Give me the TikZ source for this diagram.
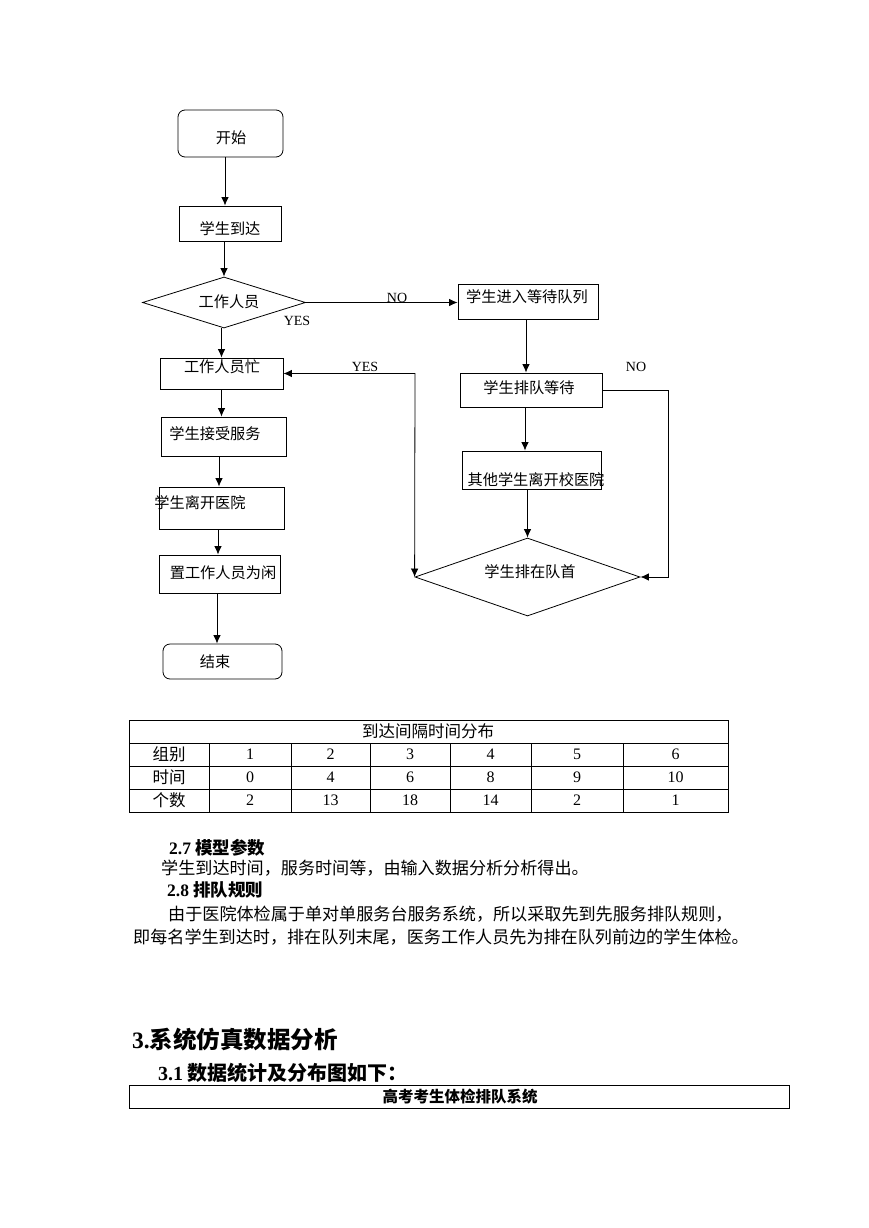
\documentclass[tikz,border=0pt]{standalone}
\usepackage{fontspec}
\setmainfont{Liberation Serif}
\newfontfamily\cjk{Noto Sans CJK SC}
\usetikzlibrary{arrows.meta,shapes.geometric}
\tikzset{
  box/.style={draw, line width=0.8pt, inner sep=0pt},
  rbox/.style={box, rounded corners=7pt},
  dia/.style={draw, diamond, line width=0.8pt, inner sep=0pt},
  ft/.style={font=\cjk\fontsize{15.2}{17}\selectfont, inner sep=0pt},
  lat/.style={font=\fontsize{14}{16}\selectfont, inner sep=0pt},
  tcj/.style={font=\cjk\fontsize{16.5}{18}\selectfont, inner sep=0pt},
  tnum/.style={font=\fontsize{16}{18}\selectfont, inner sep=0pt},
  body/.style={font=\cjk\fontsize{17.1}{19}\selectfont, inner sep=0pt, anchor=west},
  arr/.style={line width=0.8pt, -{Latex[length=8.5pt,width=7.5pt]}},
  ln/.style={line width=0.8pt},
}
\begin{document}
\begin{tikzpicture}[x=1pt,y=-1pt]
\useasboundingbox (0,0) rectangle (869,1228);
\fill[white] (0,0) rectangle (869,1228);

% ---------- flowchart boxes ----------
\node[rbox, minimum width=105pt, minimum height=47pt] (start) at (230.5,133.5) {};
\node[ft] (tstart) at (231,138) {开始};
\node[box, minimum width=102pt, minimum height=35pt] (arrive) at (230,223.5) {};
\node[ft] (tarrive) at (230,229) {学生到达};
\node[dia, minimum width=163pt, minimum height=51pt] (d1) at (224,302.5) {};
\node[ft] (td1) at (229,302) {工作人员};
\node[box, minimum width=123pt, minimum height=31pt] (busy) at (221.5,373.5) {};
\node[ft] (tbusy) at (222,367) {工作人员忙};
\node[box, minimum width=125pt, minimum height=39pt] (serve) at (223.5,436.5) {};
\node[ft] (tserve) at (215,434) {学生接受服务};
\node[box, minimum width=125pt, minimum height=42pt] (leave) at (221.5,508) {};
\node[ft] (tleave) at (200,503) {学生离开医院};
\node[box, minimum width=121pt, minimum height=38pt] (idle) at (219.5,574) {};
\node[ft] (tidle) at (223,573) {置工作人员为闲};
\node[rbox, minimum width=119pt, minimum height=35pt] (end) at (222.5,661.5) {};
\node[ft] (tend) at (215,662) {结束};

\node[box, minimum width=140pt, minimum height=35pt] (queue) at (528,301.5) {};
\node[ft] (tqueue) at (527,297) {学生进入等待队列};
\node[box, minimum width=142pt, minimum height=34pt] (wait) at (531,390) {};
\node[ft] (twait) at (529,388) {学生排队等待};
\node[box, minimum width=139pt, minimum height=38pt] (other) at (531.5,470) {};
\node[ft] (tother) at (536,480) {其他学生离开校医院};
\node[dia, minimum width=225pt, minimum height=78pt] (d2) at (527.5,577) {};
\node[ft] (td2) at (530,572) {学生排在队首};

% ---------- labels ----------
\node[lat] (lno1) at (397,297.5) {NO};
\node[lat] (lyes1) at (297,321) {YES};
\node[lat] (lyes2) at (365,367) {YES};
\node[lat] (lno2) at (636,367) {NO};

% ---------- connectors ----------
\coordinate (yl) at (415,0);
\coordinate (nr) at (668,0);
\draw[arr] ([xshift=-5.5pt]start.south) -- ([xshift=-5.5pt]start.south |- arrive.north);
\draw[arr] ([xshift=-6pt]arrive.south) -- (d1.north);
\draw[arr] (d1.east) -- (d1.east -| queue.west);
\draw[arr] ([xshift=-2.5pt]d1.south) -- ([xshift=-2.5pt]d1.south |- busy.north);
\draw[arr] (busy.south) -- (busy.south |- serve.north);
\draw[arr] ([xshift=-4.5pt]serve.south) -- ([xshift=-4.5pt]serve.south |- leave.north);
\draw[arr] ([xshift=-3.5pt]leave.south) -- ([xshift=-3.5pt]leave.south |- idle.north);
\draw[arr] ([xshift=-2.5pt]idle.south) -- ([xshift=-2.5pt]idle.south |- end.north);
\draw[arr] ([xshift=-2pt]queue.south) -- ([xshift=-2pt]queue.south |- wait.north);
\draw[arr] ([xshift=-6pt]wait.south) -- ([xshift=-6pt]wait.south |- other.north);
\draw[arr] (d2.north |- other.south) -- (d2.north);
\draw[arr] (wait.east) -| (nr |- d2.east) -- (d2.east);
\draw[line width=0.8pt, {Latex[length=8.5pt,width=7.5pt]}-{Latex[length=8.5pt,width=7.5pt]}] (busy.east) -- (yl |- busy.east) -- (d2.west);

% ---------- table ----------
\draw[ln] (129,720) rectangle (728,812);
\foreach \yy in {743,766,789} \draw[ln] (129,\yy) -- (728,\yy);
\foreach \xx in {209,291,370,450,531,623} \draw[ln] (\xx,743) -- (\xx,812);
\node[tcj] (ttitle) at (428,731.5) {到达间隔时间分布};
\node[tcj] (r1) at (169,754.5) {组别};
\node[tcj] (r2) at (169,777.5) {时间};
\node[tcj] (r3) at (169,800.5) {个数};
\foreach \cx/\a/\b/\c [count=\i] in {250/1/0/2, 330.5/2/4/13, 410/3/6/18, 490.5/4/8/14, 577/5/9/2, 675.5/6/10/1} {
  \node[tnum] (g\i) at (\cx,754.5) {\a};
  \node[tnum] (t\i) at (\cx,777.5) {\b};
  \node[tnum] (n\i) at (\cx,800.5) {\c};
}

% ---------- text ----------
\node[body, font=\fontsize{17.5}{19}\selectfont\bfseries] (h27) at (169,848) {2.7\kern4pt{\cjk 模型参数}};
\node[body] (p27) at (161,868) {学生到达时间，服务时间等，由输入数据分析分析得出。};
\node[body, font=\fontsize{17.5}{19}\selectfont\bfseries] (h28) at (167,890) {2.8\kern4pt{\cjk 排队规则}};
\node[body] (p28a) at (168,914) {由于医院体检属于单对单服务台服务系统，所以采取先到先服务排队规则，};
\node[body] (p28b) at (133,937) {即每名学生到达时，排在队列末尾，医务工作人员先为排在队列前边的学生体检。};
\node[body, font=\fontsize{23.5}{27}\selectfont\bfseries] (h3) at (132,1040) {3.{\cjk 系统仿真数据分析}};
\node[body, font=\fontsize{20}{22}\selectfont\bfseries] (h31) at (158,1073) {3.1\kern4pt{\cjk 数据统计及分布图如下：}};
\node[box, minimum width=660pt, minimum height=23pt] (sysbox) at (459,1096.5) {};
\node[tcj, font=\cjk\bfseries\fontsize{15.5}{17}\selectfont] (tsys) at (460,1097) {高考考生体检排队系统};
\end{tikzpicture}
\end{document}
